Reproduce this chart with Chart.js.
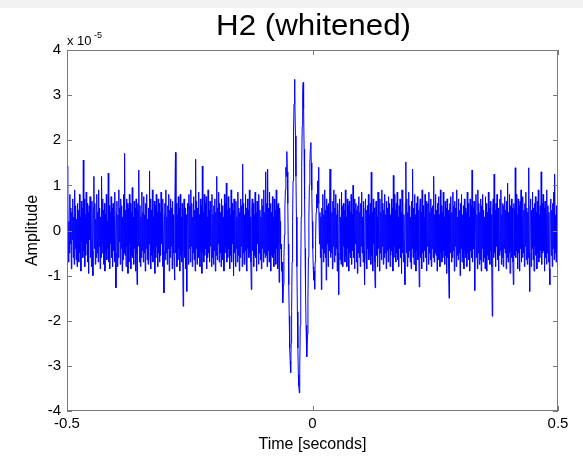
<!DOCTYPE html>
<html>
<head>
<meta charset="utf-8">
<title>H2 (whitened)</title>
<script src="https://cdn.jsdelivr.net/npm/chart.js@4.4.1/dist/chart.umd.min.js"></script>
<style>
  html, body { margin: 0; padding: 0; background: #fff; }
  #wrap { position: relative; width: 583px; height: 460px; }
</style>
</head>
<body>
<div id="wrap"><canvas id="strainChart" width="583" height="460"></canvas></div>
<script>
// Whitened H2 strain, in units of 1e-5, one second centred on the event
const amplitude = [
  1.43, -0.4, 0.6, -0.7, 0.2, -0.5, 0.8, -0.3, 0.5, -0.85, 0.4, -0.2, 0.7, -0.6, 0.3, -0.75,
  0.9, -0.4, 0.55, -0.65, 0.25, -0.8, 0.6, -0.35, 0.45, -0.7, 0.8, -0.5, 0.3, -0.9, 0.65, -0.25,
  0.5, -0.6, 1.56, -0.45, 0.7, -0.8, 0.35, -0.55, 0.85, -0.3, 0.6, -0.7, 0.4, -0.95, 0.55, -0.2,
  0.75, -0.6, 0.3, -0.8, 0.65, -0.45, -1.0, 0.5, 1.2, -0.4, 0.6, -0.75, 0.25, -0.6, 0.8, -0.5,
  0.4, -0.7, 0.9, -0.35, 0.5, -0.85, 0.3, -0.6, 1.2, -0.5, 0.7, -0.3, 0.45, -0.75, 0.6, -0.9,
  0.35, -0.5, 0.8, -0.65, 0.2, -0.4, 1.27, -0.7, 0.55, -0.85, 0.4, -0.3, 0.75, -0.6, 0.5, -0.8,
  0.6, -0.45, 0.3, -0.7, 0.85, -0.5, -1.27, 0.4, 0.65, -0.8, 0.35, -0.6, 0.9, -0.25, 0.5, -0.75,
  0.7, -0.4, 0.55, -0.9, 0.3, -0.65, 0.8, -0.5, 1.71, -0.55, 0.45, -0.8, 0.7, -0.35, 0.6, -0.95,
  0.5, -0.7, 0.8, -0.3, 0.6, -0.85, 0.4, -0.55, 0.95, -0.6, 0.3, -0.75, 0.65, -0.4, 0.5, -0.9,
  0.7, -0.5, -1.2, 0.45, 0.6, -0.35, 1.34, -0.7, 0.55, -0.8, 0.3, -0.6, 0.85, -0.45, 0.4, -0.7,
  0.75, -0.5, 0.35, -0.9, 0.6, -0.4, 0.8, -0.65, 0.25, -0.75, 0.5, -0.3, 1.32, -0.6, 0.7, -0.85,
  0.45, -0.55, 0.9, -0.7, 0.3, -0.45, 0.65, -0.95, 0.55, -0.6, 0.8, -0.35, 0.4, -0.8, 0.7, -0.5,
  0.6, -0.7, 0.4, -0.55, 0.85, -0.3, 0.5, -0.8, 0.7, -0.45, -1.38, 0.35, 0.6, -0.65, 0.9, -0.5,
  0.3, -0.75, 0.55, -0.4, 0.8, -0.9, 0.45, -0.6, 0.7, -0.35, 0.5, -0.85, 0.65, -0.5, 0.35, -0.7,
  -1.1, 0.4, 1.73, -0.5, 0.6, -0.8, 0.35, -0.65, 0.75, -0.4, 0.5, -0.9, 0.8, -0.55, 0.3, -0.7,
  0.6, -0.45, -1.68, 0.4, 0.7, -0.6, 0.5, -0.85, 0.35, -0.5, -1.35, 0.6, 0.45, -0.75, 0.8, -0.4,
  0.55, -0.7, 0.9, -0.35, 0.6, -0.8, 0.3, -0.5, 0.75, -0.65, 0.45, -0.9, 1.58, -0.4, 0.65, -0.75,
  0.5, -0.3, 0.85, -0.6, 0.35, -0.8, 0.7, -0.45, 0.55, -0.95, 1.43, -0.5, 0.4, -0.7, 0.8, -0.55,
  0.6, -0.4, 0.75, -0.85, 0.3, -0.6, 0.9, -0.5, 0.45, -0.7, 0.65, -0.35, 0.5, -0.8, 0.8, -0.6,
  0.35, -0.75, 0.55, -0.45, 0.7, -0.9, 0.4, -0.55, 1.2, -0.65, 0.5, -0.3, 0.85, -0.7, 0.6, -0.5,
  0.4, -0.8, 0.7, -0.45, 0.55, -0.65, 0.3, -0.9, 0.8, -0.5, 0.6, -0.35, 1.05, -0.7, 0.45, -0.6,
  0.75, -0.4, 0.5, -0.85, 0.35, -0.55, 0.9, -0.7, 0.6, -0.3, 0.45, -1.0, 0.7, -0.5, 0.55, -0.8,
  0.65, -0.4, 0.3, -0.7, 0.85, -0.55, 0.5, -0.9, 0.4, -0.6, 0.7, -0.35, 0.55, -0.8, 1.47, -0.5,
  0.6, -0.75, 0.35, -0.45, 0.8, -0.65, 0.5, -0.9, 0.7, -0.4, 0.45, -0.6, 0.9, -0.5, 0.3, -0.7,
  -1.31, 0.5, 0.7, -0.45, 0.6, -0.8, 0.35, -0.55, 0.85, -0.6, 0.4, -0.9, 0.65, -0.3, 0.5, -0.75,
  0.8, -0.5, 0.45, -0.65, 0.3, -0.85, 0.7, -0.4, 0.55, -0.7, 0.9, -0.5, 0.4, -0.6, 1.3, -0.55,
  0.6, -0.8, 1.36, -0.45, 0.5, -0.7, 0.85, -0.35, 0.6, -0.9, 0.4, -0.55, 0.75, -0.6, 0.3, -0.8,
  0.7, -0.5, 0.45, -0.75, 0.9, -0.4, 0.55, -0.85, 0.6, -0.3, -1.15, 0.5, 0.2, -0.4, -0.3, -0.9,
  -0.7, -1.3, -1.6, -1.2, -0.6, -0.1, 0.5, 0.9, 1.4, 1.2, 1.75, 1.3, 0.6, -0.3, -1.2, -1.9,
  -2.6, -2.9, -3.15, -2.5, -1.8, -0.7, 0.2, 1.1, 2.2, 2.8, 3.35, 3.0, 2.1, 1.2, 0.3, -0.8,
  -1.8, -2.6, -3.2, -3.45, -3.6, -3.0, -2.1, -0.9, 0.3, 1.4, 2.3, 3.0, 3.28, 2.7, 1.8, 0.7,
  -0.4, -1.3, -2.1, -2.6, -2.8, -2.3, -1.5, -0.6, 0.3, 1.0, 1.5, 1.8, 1.95, 1.5, 0.9, 0.2,
  -0.4, -0.8, -1.1, -0.9, -1.3, -0.7, -0.2, 0.4, 0.8, 0.5, 1.1, 0.9, 1.4, 0.6, -0.3, 0.4,
  -0.6, 0.3, -1.31, 0.5, -0.4, 0.8, -0.7, 0.35, -0.5, 0.9, -0.6, 0.45, -1.1, 0.7, -0.3, 0.55,
  -0.8, 0.6, -0.45, 0.3, 1.36, -0.6, 0.75, -0.5, 0.4, -0.85, 0.65, -0.35, 0.9, -0.7, 0.5, -0.55,
  0.8, -0.4, 0.35, -0.9, 0.6, -0.5, -1.42, 0.45, 0.7, -0.65, 0.3, -0.75, 0.85, -0.45, 0.55, -0.8,
  0.6, -0.35, 0.45, -0.7, 0.9, -0.55, 0.3, -0.8, 0.7, -0.4, 0.55, -0.9, 0.65, -0.5, 0.4, -0.6,
  0.8, -0.75, 0.35, -0.45, 1.0, -0.6, 0.5, -0.85, 0.7, -0.3, 0.6, -0.7, 0.45, -0.95, 0.55, -0.5,
  0.75, -0.6, 0.4, -0.8, 0.6, -0.35, 0.85, -0.5, 0.3, -0.7, 0.65, -0.45, -1.2, 0.5, 0.7, -0.6,
  0.45, -0.85, 0.55, -0.4, 0.8, -0.65, 0.35, -0.5, 0.6, -0.75, 1.29, -0.55, 0.4, -0.9, 0.7, -0.3,
  0.5, -0.7, -1.27, 0.45, 0.65, -0.55, 0.3, -0.8, 0.85, -0.4, 0.55, -0.9, 0.7, -0.5, 0.4, -0.65,
  0.9, -0.35, 0.6, -0.75, 0.45, -0.6, 0.8, -0.5, 0.35, -0.85, 0.65, -0.45, 0.5, -0.7, 0.75, -0.4,
  0.6, -0.8, 0.35, -0.55, 0.7, -0.45, 0.5, -0.9, 1.22, -0.6, 0.8, -0.35, 0.45, -0.7, 0.6, -0.5,
  0.85, -0.65, 0.3, -0.8, 0.55, -0.4, 0.7, -0.6, 0.4, -0.95, 0.9, -0.5, 0.65, -0.7, 0.35, -0.55,
  -1.2, 0.6, 1.52, -0.5, 0.7, -0.8, 0.4, -0.6, 0.85, -0.45, 0.55, -0.7, 0.3, -0.85, 0.65, -0.4,
  1.36, -0.6, 0.5, -0.75, 0.8, -0.5, 0.35, -0.9, 0.6, -0.45, 0.75, -0.65, 0.45, -0.55, -1.25, 0.5,
  0.7, -0.6, 0.4, -0.85, 0.9, -0.5, 0.55, -0.7, 0.3, -0.45, 0.8, -0.6, 0.65, -0.9, 0.45, -0.35,
  0.6, -0.75, 0.85, -0.5, 0.4, -0.65, 0.7, -0.8, 0.5, -0.4, 0.55, -0.6, 1.2, -0.7, 0.35, -0.5,
  0.8, -0.55, 0.45, -0.9, 0.6, -0.4, 0.75, -0.65, 0.35, -0.8, 0.9, -0.5, 0.55, -0.7, 0.4, -0.6,
  0.85, -0.45, 0.3, -0.75, 0.65, -0.55, 0.5, -0.95, 0.7, -0.6, 0.45, -0.8, -1.5, 0.4, 0.6, -0.5,
  0.75, -0.7, 0.4, -0.6, 0.85, -0.45, 0.55, -0.9, 0.65, -0.35, 0.5, -0.8, 0.9, -0.55, 0.3, -0.65,
  0.7, -0.5, 0.45, -1.0, 0.6, -0.4, 0.8, -0.7, 0.35, -0.6, 0.55, -0.85, 0.7, -0.45, 0.5, -0.6,
  0.4, -0.8, 0.85, -0.5, 0.6, -0.65, 0.3, -0.9, 0.7, -0.45, 0.55, -0.6, 1.34, -0.7, 0.5, -0.4,
  0.65, -0.55, -1.33, 0.45, 0.8, -0.6, 0.35, -0.85, 0.9, -0.5, 0.6, -0.75, 0.4, -0.65, 0.7, -0.9,
  0.55, -0.4, 0.8, -0.7, 0.45, -0.6, 0.3, -0.85, 0.75, -0.5, 0.6, -0.9, 0.4, -0.55, 0.85, -0.65,
  0.5, -0.75, 0.65, -0.45, 0.35, -0.8, -1.9, 0.5, 0.7, -0.6, 1.25, -0.5, 0.45, -0.8, 0.6, -0.35,
  0.8, -0.65, 0.5, -0.9, 0.4, -0.55, 0.7, -0.45, 0.9, -0.75, 0.35, -0.6, 0.6, -0.8, 0.55, -0.4,
  0.75, -0.5, 0.45, -0.85, 0.65, -0.6, 1.05, -0.7, 0.4, -0.5, 0.8, -0.95, 0.55, -0.45, 0.7, -0.6,
  0.5, -0.7, -1.2, 0.6, 0.45, -0.55, 1.39, -0.6, 0.8, -0.45, 0.35, -0.85, 0.7, -0.5, 0.55, -0.9,
  0.65, -0.4, 0.9, -0.7, 0.3, -0.6, 0.75, -0.5, 0.45, -0.8, 0.6, -0.35, 0.85, -0.65, 0.5, -0.75,
  0.4, -0.6, 1.39, -0.5, -1.35, 0.55, 0.7, -0.8, 0.45, -0.4, 0.85, -0.65, 0.5, -0.9, 0.6, -0.35,
  0.75, -0.55, 0.4, -0.85, 0.65, -0.5, 0.9, -0.7, 0.35, -0.6, 0.55, -0.45, 1.3, -0.75, 0.6, -0.5,
  0.8, -0.45, 0.5, -0.9, 0.65, -0.6, 0.35, -0.75, 0.9, -0.5, 0.55, -0.7, 0.4, -0.85, -1.2, 0.6,
  0.7, -0.55, 0.45, -0.8, 0.6, -0.4, 0.85, -0.65, 1.25, -0.5, 0.35, -0.7, 0.55, -0.6, 0.45, -0.3
];

// Sample window in seconds
const tStart = -0.5;
const tEnd = 0.5;

const xTicks = [-0.5, 0, 0.5];
const yTicks = [-4, -3, -2, -1, 0, 1, 2, 3, 4];

const titleText = 'H2 (whitened)';
const xTitle = 'Time [seconds]';
const yTitle = 'Amplitude';

const dt = (tEnd - tStart) / (amplitude.length - 1);
const points = amplitude.map((v, i) => ({ x: tStart + i * dt, y: v }));

const FONT = '"Liberation Sans", Arial, sans-serif';

// Gray strip, box frame with inward ticks, titles and the exponent note
const matlabAxes = {
  id: 'matlabAxes',
  beforeDraw(chart) {
    const ctx = chart.ctx;
    ctx.save();
    ctx.fillStyle = '#ffffff';
    ctx.fillRect(0, 0, chart.width, chart.height);
    ctx.fillStyle = '#f2f2f2';
    ctx.fillRect(0, 0, chart.width, 8);
    ctx.restore();
  },
  afterDraw(chart) {
    const { ctx, chartArea: a, scales: { x, y } } = chart;
    ctx.save();
    ctx.strokeStyle = '#7a7a7a';
    ctx.lineWidth = 1;
    ctx.strokeRect(Math.round(a.left) + 0.5, Math.round(a.top) + 0.5,
      Math.round(a.width) - 1, Math.round(a.height) - 1);

    ctx.beginPath();
    yTicks.forEach(v => {
      const py = Math.round(y.getPixelForValue(v)) + 0.5;
      ctx.moveTo(a.left, py); ctx.lineTo(a.left + 5, py);
      ctx.moveTo(a.right, py); ctx.lineTo(a.right - 5, py);
    });
    xTicks.forEach(v => {
      const px = Math.round(x.getPixelForValue(v)) + 0.5;
      ctx.moveTo(px, a.bottom); ctx.lineTo(px, a.bottom - 5);
      ctx.moveTo(px, a.top); ctx.lineTo(px, a.top + 5);
    });
    ctx.stroke();

    ctx.fillStyle = '#000';
    ctx.textAlign = 'center';
    ctx.textBaseline = 'middle';
    const cx = (a.left + a.right) / 2;

    // title is set a little wide
    ctx.save();
    ctx.translate(cx + 1, 27);
    ctx.scale(1.08, 1);
    ctx.font = '29px ' + FONT;
    ctx.fillText(titleText, 0, 0);
    ctx.restore();

    ctx.font = '16px ' + FONT;
    ctx.fillText(xTitle, cx, 445);

    ctx.save();
    ctx.translate(33, (a.top + a.bottom) / 2);
    ctx.rotate(-Math.PI / 2);
    ctx.fillText(yTitle, 0, 0);
    ctx.restore();

    ctx.textAlign = 'left';
    ctx.textBaseline = 'alphabetic';
    ctx.font = '13px ' + FONT;
    ctx.fillText('x 10', a.left, a.top - 5);
    ctx.font = '9px ' + FONT;
    ctx.fillText('-5', a.left + 27, a.top - 12);
    ctx.restore();
  }
};

new Chart(document.getElementById('strainChart'), {
  type: 'line',
  data: {
    datasets: [{
      data: points,
      borderColor: '#0000ff',
      borderWidth: 1,
      pointRadius: 0,
      tension: 0,
      fill: false
    }]
  },
  options: {
    responsive: false,
    animation: false,
    devicePixelRatio: 1,
    layout: { padding: { top: 50, right: 25, left: 0, bottom: 0 } },
    plugins: { legend: { display: false }, tooltip: { enabled: false }, title: { display: false } },
    scales: {
      x: {
        type: 'linear',
        min: tStart,
        max: tEnd,
        afterBuildTicks: s => { s.ticks = xTicks.map(v => ({ value: v })); },
        afterFit: s => { s.height = 49; },
        grid: { display: false, drawTicks: false },
        border: { display: false },
        ticks: { color: '#000', font: { family: FONT, size: 15 }, padding: 4, maxRotation: 0 }
      },
      y: {
        min: -4,
        max: 4,
        afterBuildTicks: s => { s.ticks = yTicks.map(v => ({ value: v })); },
        afterFit: s => { s.width = 67; },
        grid: { display: false, drawTicks: false },
        border: { display: false },
        ticks: { color: '#000', font: { family: FONT, size: 15 }, padding: 6 }
      }
    }
  },
  plugins: [matlabAxes]
});
</script>
</body>
</html>
